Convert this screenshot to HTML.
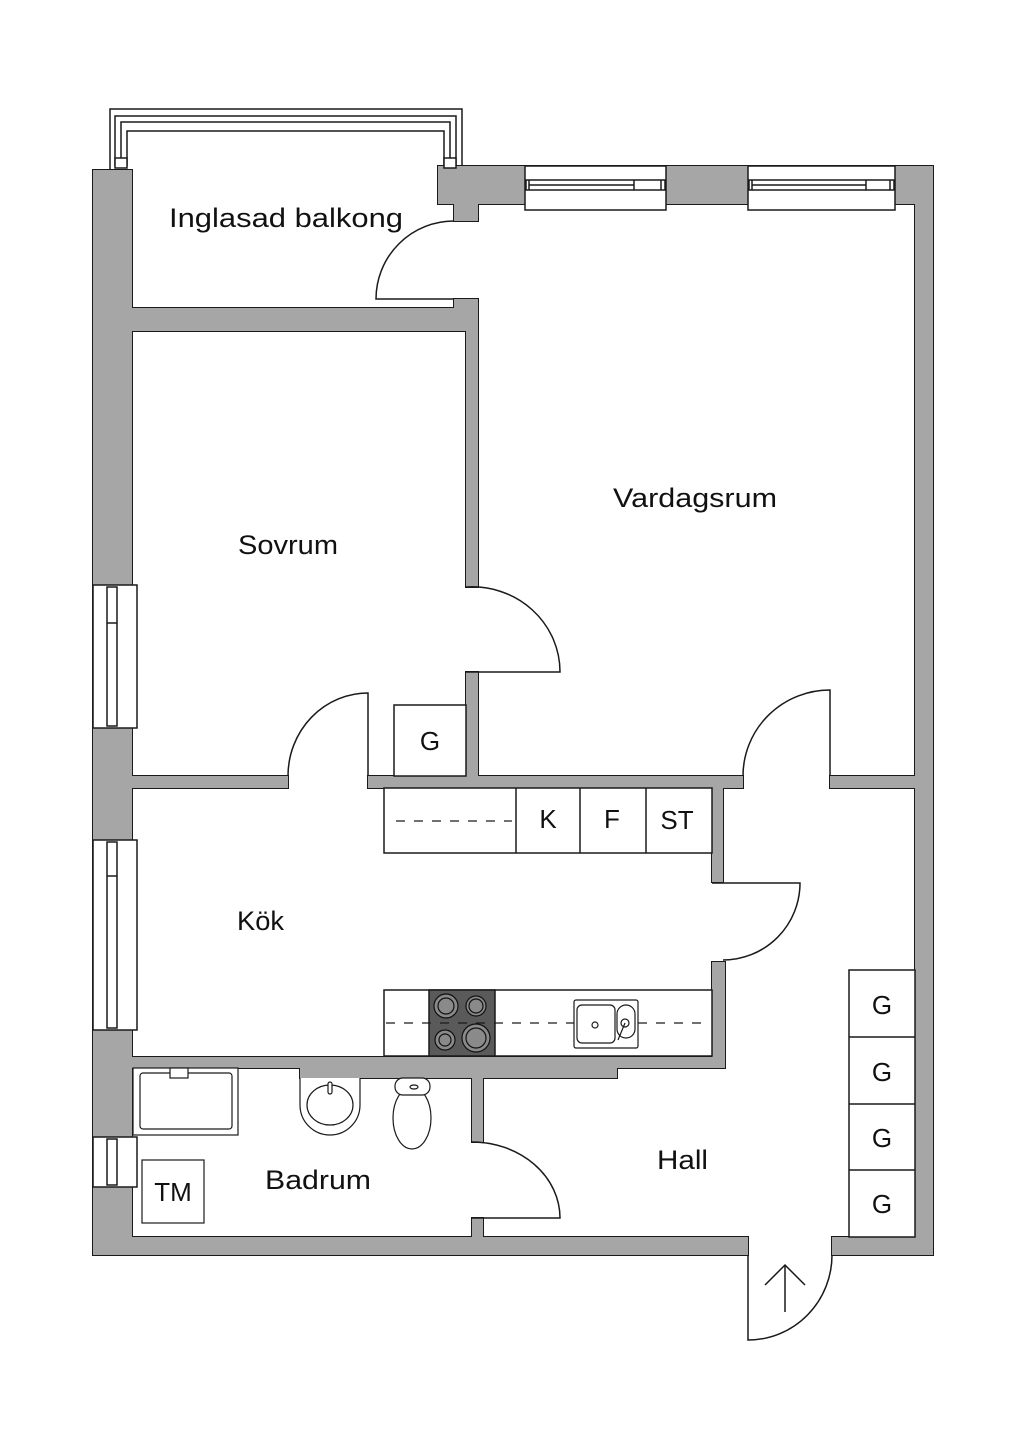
<!DOCTYPE html>
<html><head><meta charset="utf-8"><style>
html,body{margin:0;padding:0;background:#fff;}
svg{display:block;}
text{font-family:"Liberation Sans",sans-serif;fill:#111;}
</style></head><body>
<svg width="1024" height="1448" viewBox="0 0 1024 1448" xmlns="http://www.w3.org/2000/svg">
<g id="walls" fill="#a6a6a6" stroke="#1a1a1a" stroke-width="2">
<rect x="93" y="170" width="39" height="1085"/>
<rect x="438" y="166" width="495" height="38"/>
<rect x="454" y="194" width="24" height="27"/>
<rect x="915" y="166" width="18" height="1089"/>
<rect x="93" y="1237" width="655" height="18"/>
<rect x="832" y="1237" width="101" height="18"/>
<rect x="93" y="308" width="385" height="23"/>
<rect x="454" y="299" width="24" height="32"/>
<rect x="466" y="299" width="12" height="288"/>
<rect x="466" y="672" width="12" height="116"/>
<rect x="93" y="776" width="195" height="12"/>
<rect x="368" y="776" width="375" height="12"/>
<rect x="830" y="776" width="103" height="12"/>
<rect x="712" y="776" width="11" height="106"/>
<rect x="712" y="962" width="13" height="105"/>
<rect x="93" y="1057" width="632" height="11"/>
<rect x="300" y="1057" width="317" height="21"/>
<rect x="472" y="1068" width="11" height="74"/>
<rect x="472" y="1218" width="11" height="37"/>
</g>
<g fill="#a6a6a6">
<rect x="93" y="170" width="39" height="1085"/>
<rect x="438" y="166" width="495" height="38"/>
<rect x="454" y="194" width="24" height="27"/>
<rect x="915" y="166" width="18" height="1089"/>
<rect x="93" y="1237" width="655" height="18"/>
<rect x="832" y="1237" width="101" height="18"/>
<rect x="93" y="308" width="385" height="23"/>
<rect x="454" y="299" width="24" height="32"/>
<rect x="466" y="299" width="12" height="288"/>
<rect x="466" y="672" width="12" height="116"/>
<rect x="93" y="776" width="195" height="12"/>
<rect x="368" y="776" width="375" height="12"/>
<rect x="830" y="776" width="103" height="12"/>
<rect x="712" y="776" width="11" height="106"/>
<rect x="712" y="962" width="13" height="105"/>
<rect x="93" y="1057" width="632" height="11"/>
<rect x="300" y="1057" width="317" height="21"/>
<rect x="472" y="1068" width="11" height="74"/>
<rect x="472" y="1218" width="11" height="37"/>
</g>
<g fill="#fff" stroke="#1a1a1a" stroke-width="1.5">
<rect x="525" y="166" width="141" height="44"/>
<rect x="526" y="180" width="139" height="10"/>
<line x1="529" y1="180" x2="529" y2="190"/><line x1="634" y1="180" x2="634" y2="190"/><line x1="661" y1="180" x2="661" y2="190"/>
<line x1="529" y1="185" x2="634" y2="185"/>
<rect x="748" y="166" width="147" height="44"/>
<rect x="749" y="180" width="145" height="10"/>
<line x1="752" y1="180" x2="752" y2="190"/><line x1="866" y1="180" x2="866" y2="190"/><line x1="890" y1="180" x2="890" y2="190"/>
<line x1="752" y1="185" x2="866" y2="185"/>
<rect x="93" y="585" width="44" height="143"/>
<rect x="107" y="587" width="10" height="139"/>
<line x1="107" y1="623" x2="117" y2="623"/>
<rect x="93" y="840" width="44" height="190"/>
<rect x="107" y="842" width="10" height="186"/>
<line x1="107" y1="876" x2="117" y2="876"/>
<rect x="93" y="1137" width="44" height="50"/>
<rect x="107" y="1139" width="10" height="46"/>
</g>
<g fill="none" stroke="#1a1a1a" stroke-width="1.5">
<path d="M110 170 V109 H462 V166"/>
<path d="M115 166 V116 H456 V166"/>
<path d="M121 166 V122 H450 V166"/>
<path d="M127 166 V131 H444 V166"/>
<rect x="115" y="158" width="12" height="10" fill="#fff"/>
<rect x="444" y="158" width="12" height="10" fill="#fff"/>
</g>
<g fill="none" stroke="#1a1a1a" stroke-width="1.5">
<path d="M454 221 A78 78 0 0 0 376 299 H454"/>
<path d="M466 587 A88 85 0 0 1 560 672 H466"/>
<path d="M288 776 A80 83 0 0 1 368 693 V776"/>
<path d="M743 776 A87 86 0 0 1 830 690 V776"/>
<path d="M712 883 H800 A77 77 0 0 1 723 960"/>
<path d="M472 1142 A88 76 0 0 1 560 1218 H472"/>
<path d="M748 1255 V1340 A84 85 0 0 0 832 1255"/>
<path d="M785 1312 V1265 M765 1285 L785 1265 L805 1285"/>
</g>
<g fill="#fff" stroke="#1a1a1a" stroke-width="1.5">
<rect x="384" y="788" width="328" height="65"/>
<line x1="516" y1="788" x2="516" y2="853"/><line x1="580" y1="788" x2="580" y2="853"/><line x1="646" y1="788" x2="646" y2="853"/>
<rect x="384" y="990" width="328" height="66"/>
<rect x="429" y="990" width="66" height="66" fill="#5a5a5a"/>
<rect x="394" y="705" width="72" height="71"/>
<rect x="849" y="970" width="66" height="267"/>
<line x1="849" y1="1037" x2="915" y2="1037"/><line x1="849" y1="1104" x2="915" y2="1104"/><line x1="849" y1="1170" x2="915" y2="1170"/>
</g>
<g stroke="#1a1a1a" stroke-width="1.2" stroke-dasharray="9,9" fill="none">
<line x1="396" y1="821" x2="512" y2="821"/>
<line x1="386" y1="1023" x2="706" y2="1023"/>
</g>
<g stroke="#111" stroke-width="1.2" fill="#8a8a8a">
<circle cx="446" cy="1006" r="12"/><circle cx="446" cy="1006" r="8"/>
<circle cx="476" cy="1006" r="10"/><circle cx="476" cy="1006" r="7"/>
<circle cx="445" cy="1040" r="10"/><circle cx="445" cy="1040" r="6"/>
<circle cx="476" cy="1038" r="14"/><circle cx="476" cy="1038" r="10"/>
</g>
<g fill="#fff" stroke="#1a1a1a" stroke-width="1.2">
<rect x="574" y="1000" width="64" height="48" rx="2"/>
<rect x="577" y="1005" width="38" height="38" rx="5"/>
<rect x="617" y="1005" width="18" height="33" rx="9"/>
<circle cx="595" cy="1025" r="3"/><circle cx="625" cy="1023" r="4"/>
<line x1="625" y1="1023" x2="618" y2="1040"/>
<rect x="133" y="1068" width="105" height="67"/>
<rect x="140" y="1073" width="92" height="56" rx="3"/>
<rect x="170" y="1068" width="18" height="10"/>
<path d="M300 1078 V1105 A30 30 0 0 0 360 1105 V1078"/>
<ellipse cx="330" cy="1105" rx="23" ry="20"/>
<rect x="328" y="1082" width="4" height="12" rx="2"/>
<ellipse cx="412" cy="1118" rx="19" ry="31"/>
<rect x="395" y="1078" width="35" height="17" rx="8"/>
<ellipse cx="414" cy="1087" rx="4" ry="2"/>
<rect x="142" y="1160" width="62" height="63"/>
</g>
<g font-size="27">
<text x="169" y="227" textLength="234" lengthAdjust="spacingAndGlyphs">Inglasad balkong</text>
<text x="613" y="507" textLength="164" lengthAdjust="spacingAndGlyphs">Vardagsrum</text>
<text x="238" y="554" textLength="100" lengthAdjust="spacingAndGlyphs">Sovrum</text>
<text x="237" y="930" textLength="47" lengthAdjust="spacingAndGlyphs">Kök</text>
<text x="265" y="1189" textLength="106" lengthAdjust="spacingAndGlyphs">Badrum</text>
<text x="657" y="1169" textLength="51" lengthAdjust="spacingAndGlyphs">Hall</text>
</g>
<g font-size="26">
<text x="430" y="750" text-anchor="middle">G</text>
<text x="548" y="828" text-anchor="middle">K</text>
<text x="612" y="828" text-anchor="middle">F</text>
<text x="677" y="829" text-anchor="middle">ST</text>
<text x="173" y="1201" text-anchor="middle">TM</text>
<text x="882" y="1014" text-anchor="middle">G</text>
<text x="882" y="1081" text-anchor="middle">G</text>
<text x="882" y="1147" text-anchor="middle">G</text>
<text x="882" y="1213" text-anchor="middle">G</text>
</g>
</svg>
</body></html>
